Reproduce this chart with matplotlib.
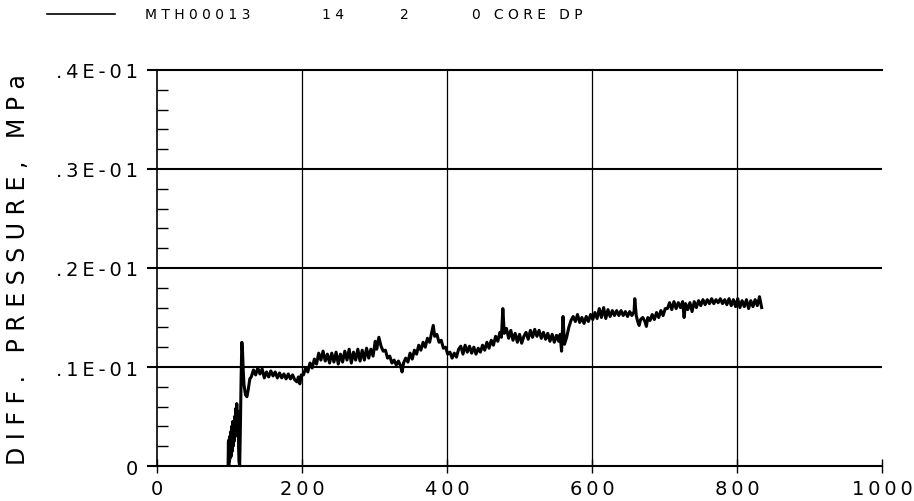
import matplotlib
matplotlib.use("Agg")
import matplotlib.pyplot as plt
from matplotlib.ticker import MultipleLocator, FixedLocator

plt.rcParams['font.family'] = ['Liberation Sans Narrow', 'DejaVu Sans Condensed', 'DejaVu Sans']

# time (s) vs core differential pressure (MPa)
time = [98, 98.5, 99, 99.5, 100, 100.5, 101, 102, 102.5, 103, 104, 104.5, 105, 106,
        106.5, 107, 108, 108.5, 109, 110, 111, 112, 112.5, 113, 114, 115, 116, 117,
        118, 119, 120, 122, 124, 126, 128,
        130, 133, 136, 139, 142, 145, 148, 151, 154, 157, 160, 163, 166, 169, 172,
        175, 178, 181, 184, 187, 190, 193, 195, 197, 199, 202, 205, 208, 211, 214,
        217, 220, 223, 226, 229, 232, 235, 238, 241, 244, 247, 250, 253, 256, 259,
        262, 265, 268, 271, 274, 277, 280, 283, 286, 289, 292, 295, 298, 301, 303,
        306, 309, 312, 315, 318, 321, 324, 327, 330, 333, 336, 338, 340, 343, 346,
        349, 352, 355, 358, 361, 364, 367, 370, 373, 376, 379, 381, 383, 386, 389,
        392, 395, 398, 401, 404, 407, 410, 413, 416, 419, 422, 425, 428, 431, 434,
        437, 440, 443, 446, 449, 452, 455, 458, 461, 464, 467, 470, 473, 475, 477,
        479, 482, 485, 488, 491, 494, 497, 500, 503, 506, 509, 512, 515, 518, 521,
        524, 527, 530, 533, 536, 539, 542, 545, 548, 551, 554, 556, 558, 560, 562,
        565, 568, 571, 574, 577, 580, 583, 586, 589, 592, 595, 598, 601, 604, 607,
        610, 613, 616, 619, 622, 625, 628, 631, 634, 637, 640, 643, 646, 649, 652,
        655, 658, 659, 661, 663, 665, 667, 670, 673, 675, 677, 680, 683, 686, 689,
        692, 695, 698, 701, 704, 707, 710, 713, 716, 719, 722, 725, 727, 729, 732,
        735, 738, 741, 744, 747, 750, 753, 756, 759, 762, 765, 768, 771, 774, 777,
        780, 783, 786, 789, 792, 795, 798, 801, 804, 807, 810, 813, 816, 819, 822,
        825, 828, 831, 833, 834]
dp = [0.0, 0.0025, 0.0, 0.0027, 0.0005, 0.0030, 0.0008, 0.0035, 0.0010, 0.0040, 0.0015,
      0.0045, 0.0020, 0.0042, 0.0025, 0.0050, 0.0030, 0.0058, 0.0035, 0.0063, 0.0040,
      0.0055, 0.0020, 0.0005, 0.0, 0.0040, 0.0090, 0.0125, 0.0115, 0.0095, 0.0082,
      0.0072, 0.0070, 0.0078, 0.0088,
      0.0090, 0.0097, 0.0092, 0.0099, 0.0093, 0.0098, 0.0089, 0.0095, 0.0090, 0.0096,
      0.0091, 0.0095, 0.0089, 0.0094, 0.0089, 0.0093, 0.0088, 0.0093, 0.0088, 0.0092,
      0.0087, 0.0085, 0.0090, 0.0083, 0.0092, 0.0092, 0.0099, 0.0095, 0.0104, 0.0099,
      0.0108, 0.0103, 0.0114, 0.0107, 0.0116, 0.0106, 0.0113, 0.0104, 0.0114, 0.0105,
      0.0115, 0.0103, 0.0113, 0.0105, 0.0116, 0.0107, 0.0118, 0.0104, 0.0115, 0.0107,
      0.0118, 0.0106, 0.0117, 0.0107, 0.0119, 0.0109, 0.0118, 0.0111, 0.0126, 0.0118,
      0.0130, 0.0121, 0.0116, 0.0117, 0.0109, 0.0111, 0.0104, 0.0107, 0.0102, 0.0106,
      0.0101, 0.0095, 0.0104, 0.0109, 0.0105, 0.0114, 0.0108, 0.0117, 0.0113, 0.0122,
      0.0117, 0.0125, 0.0120, 0.0129, 0.0125, 0.0135, 0.0142, 0.0131, 0.0133, 0.0125,
      0.0127, 0.0119, 0.0120, 0.0113, 0.0115, 0.0109, 0.0114, 0.0110, 0.0118, 0.0121,
      0.0113, 0.0122, 0.0115, 0.0121, 0.0114, 0.0120, 0.0113, 0.0119, 0.0115, 0.0122,
      0.0117, 0.0125, 0.0119, 0.0127, 0.0122, 0.0131, 0.0126, 0.0135, 0.0130, 0.0159,
      0.0134, 0.0139, 0.0129, 0.0137, 0.0127, 0.0134, 0.0125, 0.0133, 0.0124, 0.0131,
      0.0135, 0.0128, 0.0137, 0.0130, 0.0138, 0.0131, 0.0137, 0.0129, 0.0135, 0.0128,
      0.0134, 0.0126, 0.0133, 0.0125, 0.0132, 0.0126, 0.0133, 0.0116, 0.0151, 0.0123,
      0.0130, 0.0140, 0.0147, 0.0151, 0.0146, 0.0153, 0.0145, 0.0150, 0.0144, 0.0151,
      0.0146, 0.0153, 0.0148, 0.0155, 0.0149, 0.0159, 0.0150, 0.0160, 0.0149, 0.0158,
      0.0151, 0.0157, 0.0152, 0.0157, 0.0152, 0.0157, 0.0152, 0.0156, 0.0151, 0.0156,
      0.0152, 0.0156, 0.0169, 0.0152, 0.0146, 0.0142, 0.0148, 0.0150, 0.0146, 0.0141,
      0.0150, 0.0147, 0.0153, 0.0148, 0.0155, 0.0150, 0.0157, 0.0152, 0.0159, 0.0159,
      0.0165, 0.0158, 0.0166, 0.0159, 0.0165, 0.0160, 0.0166, 0.0150, 0.0164, 0.0158,
      0.0165, 0.0156, 0.0166, 0.0160, 0.0167, 0.0162, 0.0168, 0.0163, 0.0168, 0.0164,
      0.0169, 0.0164, 0.0168, 0.0165, 0.0169, 0.0164, 0.0168, 0.0163, 0.0169, 0.0162,
      0.0168, 0.0161, 0.0169, 0.0160, 0.0167, 0.0161, 0.0168, 0.0159, 0.0167, 0.0161,
      0.0168, 0.0162, 0.0171, 0.0164, 0.0160]

xticks = [0, 200, 400, 600, 800, 1000]
xtick_labels = ['0', '200', '400', '600', '800', '1000']
yticks = [0, 0.01, 0.02, 0.03, 0.04]
ytick_labels = ['0', '.1E-01', '.2E-01', '.3E-01', '.4E-01']
legend_fields = ['MTH00013', '14', '2', '0 CORE DP']


def spaced(s, sep='\u2009'):
    return sep.join(s)


fig = plt.figure(figsize=(9.14, 5.02), dpi=100)
ax = fig.add_axes([0.1718, 0.0697, 0.7932, 0.7889])

ax.plot(time, dp, color='black', lw=2.2)

ax.set_xlim(0, 1000)
ax.set_ylim(0, 0.04)

ax.xaxis.set_major_locator(FixedLocator(xticks))
ax.set_xticklabels([spaced(t) for t in xtick_labels], fontsize=14)
ax.yaxis.set_major_locator(FixedLocator(yticks))
ax.set_yticklabels([spaced(t) for t in ytick_labels], fontsize=14)
ax.yaxis.set_minor_locator(MultipleLocator(0.002))

ax.tick_params(axis='x', which='major', direction='inout', length=10, width=1, pad=4)
ax.tick_params(axis='y', which='major', direction='out', length=7, width=1.5, pad=7)
ax.tick_params(axis='y', which='minor', direction='in', length=8, width=1)

ax.spines['right'].set_visible(False)
ax.spines['top'].set_linewidth(1.5)
ax.spines['bottom'].set_linewidth(1.5)
ax.spines['left'].set_linewidth(1.2)

for y in yticks[1:-1]:
    ax.axhline(y, color='black', lw=1.5)
for x in xticks[1:-1]:
    ax.axvline(x, color='black', lw=0.9)

fig.text(18 / 914, 0.464, spaced('DIFF. PRESSURE, MPa', ' '), rotation=90,
         ha='center', va='center', fontsize=17)

# legend strip along the top
leg_y = 1 - 15 / 502
fig.add_artist(plt.Line2D([47 / 914, 115 / 914], [leg_y, leg_y], color='black', lw=1.2))
for x, t in zip([145, 322, 400, 472], legend_fields):
    fig.text(x / 914, leg_y, spaced(t, ' '), ha='left', va='center', fontsize=10)

fig.savefig('out.png', dpi=100)
